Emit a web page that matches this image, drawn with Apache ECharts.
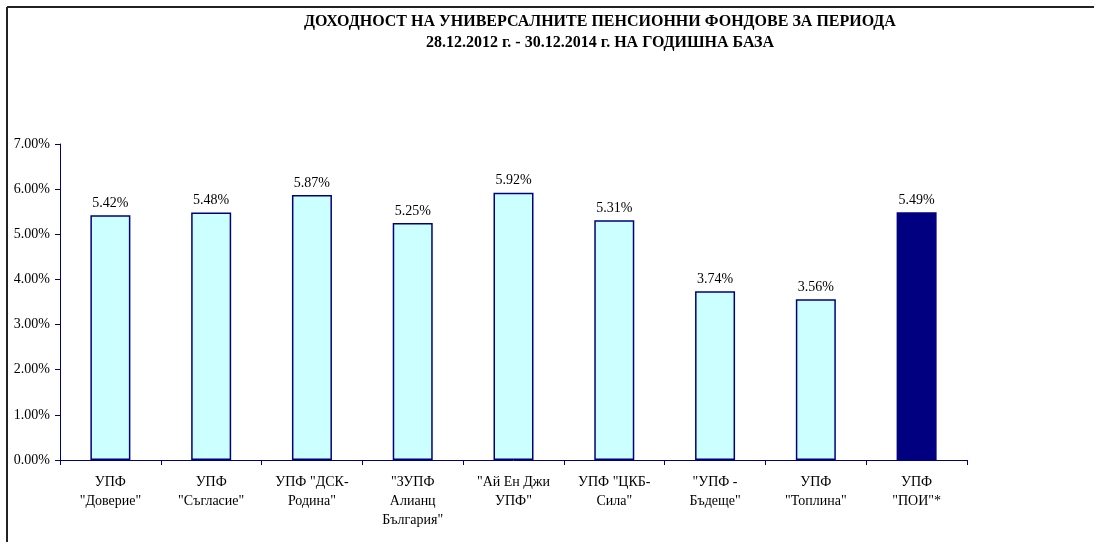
<!DOCTYPE html>
<html><head><meta charset="utf-8">
<script src="https://cdn.jsdelivr.net/npm/echarts@6/dist/echarts.min.js"></script>
<style>html,body{margin:0;padding:0;background:#fff}#c{width:1094px;height:542px}</style>
</head><body><div id="c"></div>
<script>
const titleLines = ['ДОХОДНОСТ НА УНИВЕРСАЛНИТЕ ПЕНСИОННИ ФОНДОВЕ ЗА ПЕРИОДА', '28.12.2012 г. - 30.12.2014 г. НА ГОДИШНА БАЗА'];
const categories = ['УПФ\n"Доверие"', 'УПФ\n"Съгласие"', 'УПФ "ДСК-\nРодина"', '"ЗУПФ\nАлианц\nБългария"', '"Ай Ен Джи\nУПФ"', 'УПФ "ЦКБ-\nСила"', '"УПФ -\nБъдеще"', 'УПФ\n"Топлина"', 'УПФ\n"ПОИ"*'];
const values = [5.42, 5.48, 5.87, 5.25, 5.92, 5.31, 3.74, 3.56, 5.49];
const highlightIndex = 8;

const chart = echarts.init(document.getElementById('c'), null, {renderer: 'canvas'});
const font = '"Liberation Serif", "Times New Roman", serif';
chart.setOption({
  animation: false,
  backgroundColor: '#fff',
  title: {
    text: titleLines.join('\n'),
    left: 595, top: 6, textAlign: 'center',
    textStyle: {fontFamily: font, fontWeight: 'bold', fontSize: 16, lineHeight: 21, color: '#000'}
  },
  grid: {left: 60, right: 127, top: 144, bottom: 82, containLabel: false},
  xAxis: {
    type: 'category', data: categories,
    axisLine: {lineStyle: {color: '#000080', width: 1}},
    axisTick: {show: true, alignWithLabel: false, length: 5, lineStyle: {color: '#000080'}},
    axisLabel: {fontFamily: font, fontSize: 14, color: '#000', lineHeight: 19, margin: 13, interval: 0}
  },
  yAxis: {
    type: 'value', min: 0, max: 7, interval: 1,
    splitLine: {show: false},
    axisLine: {show: true, lineStyle: {color: '#000080', width: 1}},
    axisTick: {show: true, length: 5, lineStyle: {color: '#000080'}},
    axisLabel: {fontFamily: font, fontSize: 14, color: '#000', margin: 10,
      formatter: v => v.toFixed(2) + '%'}
  },
  series: [{
    type: 'bar', barWidth: 40,
    data: values.map((v, i) => ({
      value: v,
      itemStyle: i === highlightIndex ? {color: '#000080', borderColor: '#000080', borderWidth: 1.5}
                                       : {color: '#CCFFFF', borderColor: '#000080', borderWidth: 1.5}
    })),
    label: {show: true, position: 'top', distance: 5, fontFamily: font, fontSize: 14, color: '#000',
      formatter: p => p.value.toFixed(2) + '%'}
  }],
  graphic: [
    {type: 'line', shape: {x1: 7, y1: 7, x2: 1094, y2: 7}, style: {stroke: '#222', lineWidth: 2}},
    {type: 'line', shape: {x1: 7, y1: 7, x2: 7, y2: 542}, style: {stroke: '#222', lineWidth: 2}}
  ]
});
</script></body></html>
